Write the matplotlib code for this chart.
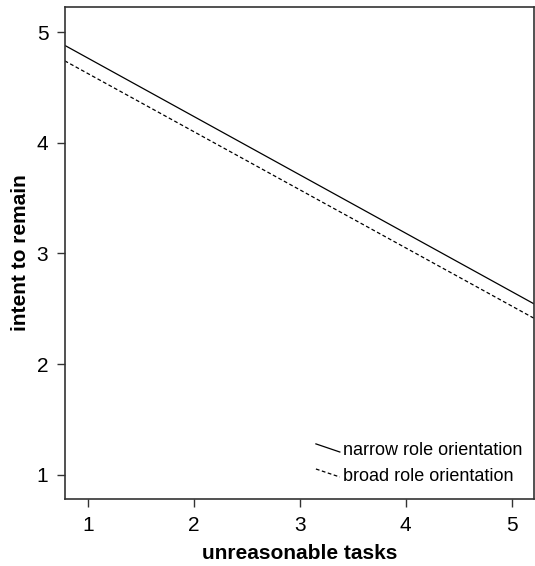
#!/usr/bin/env python3

import matplotlib.pyplot as plt

plt.rcParams["font.family"] = ["Liberation Sans", "DejaVu Sans"]

# line endpoints read at the plot edges
x_edges = [0.78, 5.22]
narrow = [4.88, 2.54]
broad = [4.74, 2.41]

x_ticks = [1, 2, 3, 4, 5]
y_ticks = [1, 2, 3, 4, 5]

fig = plt.figure(figsize=(5.35, 5.66), dpi=100)
ax = fig.add_axes([65 / 535, 1 - 499 / 566, 469 / 535, 492 / 566])

ax.plot(x_edges, narrow, color="black", lw=0.9, solid_capstyle="butt")
ax.plot(x_edges, broad, color="black", lw=0.9, ls=(0, (3, 2)))

ax.set_xlim(0.783, 5.21)
ax.set_ylim(0.783, 5.226)
ax.set_xticks(x_ticks)
ax.set_yticks(y_ticks)
ax.tick_params(direction="out", length=6, width=1, labelsize=15, color="#333333", pad=6)
for s in ax.spines.values():
    s.set_color("#333333")
    s.set_linewidth(1.2)

ax.set_xlabel("unreasonable tasks", fontsize=15, fontweight="bold", labelpad=7)
ax.set_ylabel("intent to remain", fontsize=15, fontweight="bold", labelpad=5)

# hand drawn key with slanted sample lines
ax.plot([0.535, 0.586], [0.112, 0.0955], transform=ax.transAxes, color="black", lw=0.9)
ax.plot([0.535, 0.586], [0.061, 0.0447], transform=ax.transAxes, color="black", lw=0.9, ls=(0, (3, 2)))
ax.text(0.593, 0.0976, "narrow role orientation", transform=ax.transAxes, fontsize=13, va="center")
ax.text(0.593, 0.0467, "broad role orientation", transform=ax.transAxes, fontsize=13, va="center")

fig.savefig("out.png", dpi=100)
